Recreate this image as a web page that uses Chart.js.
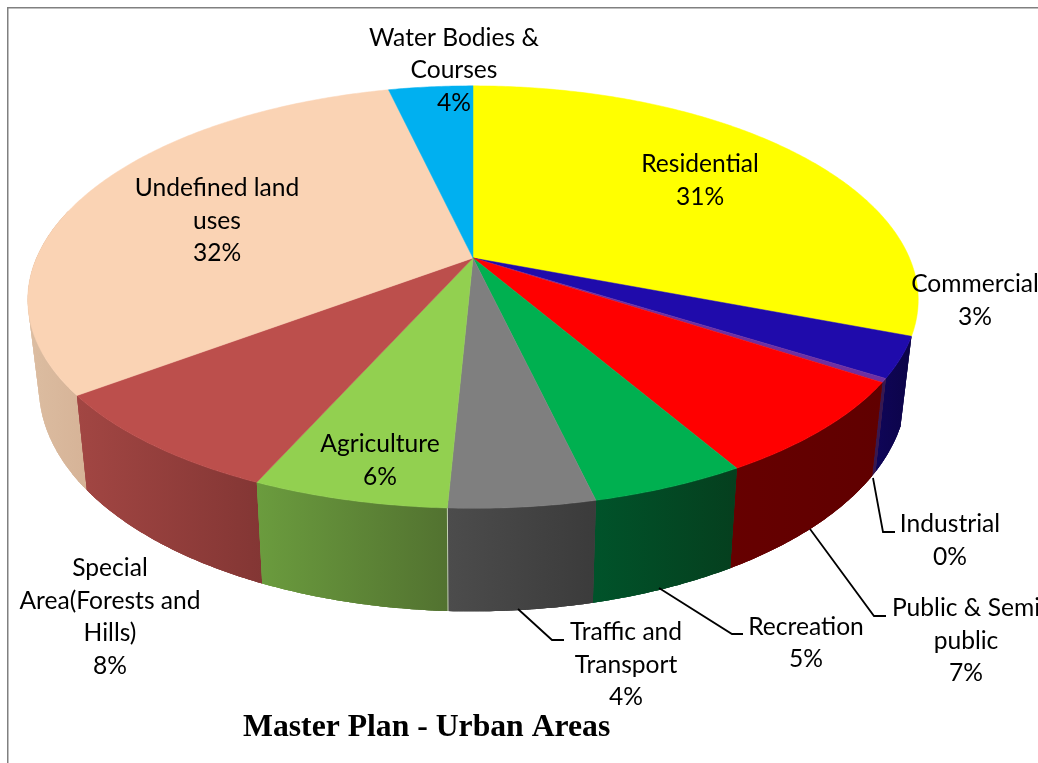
<!DOCTYPE html>
<html>
<head>
<meta charset="utf-8">
<title>Master Plan - Urban Areas</title>
<style>
    html, body { margin: 0; padding: 0; background: #fff; overflow: hidden; }
    canvas { display: block; }
</style>
<script src="https://cdn.jsdelivr.net/npm/chart.js@4/dist/chart.umd.js"></script>
</head>
<body>
<canvas id="chart" width="1038" height="763"></canvas>
<script>
// Data
const categories = ['Residential', 'Commercial', 'Industrial', 'Public & Semi public', 'Recreation',
    'Traffic and Transport', 'Agriculture', 'Special Area(Forests and Hills)', 'Undefined land uses', 'Water Bodies & Courses'];
const shares = [30.8, 3.1, 0.3, 7.4, 4.7, 4.4, 5.9, 8.1, 31.5, 3.7];
const percentLabels = ['31%', '3%', '0%', '7%', '5%', '4%', '6%', '8%', '32%', '4%'];

// Colours
const topColors = ['#ffff00', '#1f0bab', '#7030a0', '#ff0000', '#00b050', '#7f7f7f', '#92d050', '#bc4f4c', '#fad3b4', '#00b0f0'];
const wallStart = ['#7f7f00', '#0f0558', '#38184f', '#660000', '#00532a', '#4c4c4c', '#6b9c3e', '#a24643', '#dcbda1', '#005878'];
const wallEnd = ['#7f7f00', '#0c0448', '#38184f', '#600000', '#053f1e', '#3b3b3b', '#527230', '#833634', '#d6b397', '#005878'];

// Label layout: wrapped lines (the percentage is added below), centre x, first line y
const labelLayout = [
    { lines: ['Residential'], x: 700, y: 164.5 },
    { lines: ['Commercial'], x: 975, y: 284.5 },
    { lines: ['Industrial'], x: 950, y: 524.5 },
    { lines: ['Public & Semi', 'public'], x: 966, y: 608.5 },
    { lines: ['Recreation'], x: 806, y: 627 },
    { lines: ['Traffic and', 'Transport'], x: 626, y: 632.5 },
    { lines: ['Agriculture'], x: 380, y: 444.5 },
    { lines: ['Special', 'Area(Forests and', 'Hills)'], x: 110, y: 568.5 },
    { lines: ['Undefined land', 'uses'], x: 217, y: 188.5 },
    { lines: ['Water Bodies &', 'Courses'], x: 454, y: 38 }
];
const leaderLines = [
    [[873, 478], [883, 532], [895, 532]],
    [[810, 529], [874, 616], [886, 616]],
    [[659, 588], [732, 634], [743, 634]],
    [[518, 609], [552, 640], [564, 640]]
];

// Perspective of the tilted disc
const view = { cx: 473, cy: 258, rx: 436.5, ry: 204, tiltX: 0.197, tiltY: 0.185, depth: 84, shrink: 0.975 };

function project(angle, lower) {
    const u = Math.cos(angle);
    const v = Math.sin(angle);
    return {
        x: view.cx + view.rx * (lower ? view.shrink : 1) * u / (1 - view.tiltX * v),
        y: view.cy + (view.ry * v + (lower ? view.depth : 0)) / (1 - view.tiltY * v)
    };
}

function arcAngles(start, end) {
    const steps = Math.max(2, Math.ceil((end - start) / 0.01));
    const list = [];
    for (let i = 0; i <= steps; i++) {
        list.push(start + (end - start) * i / steps);
    }
    return list;
}

function drawWall(ctx, arc, i) {
    // Residential's rim is out of sight in the picture
    if (i === 0) return;
    // only the part of the rim turned to the viewer
    const angles = arcAngles(arc.startAngle, arc.endAngle).filter(a => Math.sin(a) > -0.25);
    if (angles.length < 2) return;
    const upper = angles.map(a => project(a, false));
    const lower = angles.map(a => project(a, true));
    const xs = upper.concat(lower).map(p => p.x);
    const gradient = ctx.createLinearGradient(Math.min(...xs), 0, Math.max(...xs), 0);
    gradient.addColorStop(0, wallStart[i]);
    gradient.addColorStop(1, wallEnd[i]);
    ctx.fillStyle = gradient;
    // strips keep the silhouette at the sides filled; drawn twice so their seams close up
    for (let pass = 0; pass < 2; pass++) {
        for (let n = 0; n < angles.length - 1; n++) {
            ctx.beginPath();
            ctx.moveTo(upper[n].x, upper[n].y);
            ctx.lineTo(upper[n + 1].x, upper[n + 1].y);
            ctx.lineTo(lower[n + 1].x, lower[n + 1].y);
            ctx.lineTo(lower[n].x, lower[n].y);
            ctx.closePath();
            ctx.fill();
        }
    }
    // smooth fill over the whole face
    ctx.beginPath();
    upper.concat(lower.slice().reverse()).forEach((p, n) => n ? ctx.lineTo(p.x, p.y) : ctx.moveTo(p.x, p.y));
    ctx.closePath();
    ctx.fill();
}

function drawTop(ctx, arc, i) {
    ctx.beginPath();
    ctx.moveTo(view.cx, view.cy);
    arcAngles(arc.startAngle, arc.endAngle).forEach(a => {
        const p = project(a, false);
        ctx.lineTo(p.x, p.y);
    });
    ctx.closePath();
    ctx.fillStyle = topColors[i];
    ctx.strokeStyle = topColors[i];
    ctx.lineWidth = 0.5;
    ctx.fill();
    ctx.stroke();
}

// Chart.js has no 3D pie: keep its arcs for the angles and draw them in perspective
const perspectivePie = {
    id: 'perspectivePie',
    beforeDraw(chart) {
        const ctx = chart.ctx;
        ctx.save();
        ctx.strokeStyle = '#808080';
        ctx.lineWidth = 1.5;
        ctx.beginPath();
        ctx.moveTo(7.75, 763);
        ctx.lineTo(7.75, 7.75);
        ctx.lineTo(1038, 7.75);
        ctx.stroke();
        ctx.restore();
    },
    beforeDatasetDraw(chart, args) {
        const ctx = chart.ctx;
        const arcs = args.meta.data;
        const order = arcs.map((arc, i) => i).sort((a, b) =>
            Math.sin((arcs[a].startAngle + arcs[a].endAngle) / 2) - Math.sin((arcs[b].startAngle + arcs[b].endAngle) / 2));
        ctx.save();
        order.forEach(i => drawWall(ctx, arcs[i], i));
        // pale seam where the Traffic wall meets the Agriculture wall
        const seamTop = project(arcs[5].endAngle, false);
        const seamBottom = project(arcs[5].endAngle, true);
        ctx.strokeStyle = '#c4d2b4';
        ctx.lineWidth = 1;
        ctx.beginPath();
        ctx.moveTo(seamTop.x, seamTop.y);
        ctx.lineTo(seamBottom.x, seamBottom.y);
        ctx.stroke();
        arcs.forEach((arc, i) => drawTop(ctx, arc, i));
        ctx.restore();
        return false;
    },
    afterDatasetsDraw(chart) {
        const ctx = chart.ctx;
        ctx.save();
        ctx.strokeStyle = '#000';
        ctx.lineWidth = 1.8;
        leaderLines.forEach(line => {
            ctx.beginPath();
            line.forEach((p, n) => n ? ctx.lineTo(p[0], p[1]) : ctx.moveTo(p[0], p[1]));
            ctx.stroke();
        });
        ctx.fillStyle = '#000';
        ctx.font = '24.6px Lato';
        ctx.textAlign = 'center';
        ctx.textBaseline = 'middle';
        labelLayout.forEach((label, i) => {
            label.lines.concat(percentLabels[i]).forEach((text, n) => ctx.fillText(text, label.x, label.y + n * 32.5));
        });
        ctx.restore();
    }
};

new Chart(document.getElementById('chart'), {
    type: 'pie',
    data: {
        labels: categories,
        datasets: [{ data: shares, backgroundColor: topColors }]
    },
    options: {
        responsive: false,
        animation: false,
        layout: { padding: { left: 243, bottom: 16 } },
        plugins: {
            legend: { display: false },
            tooltip: { enabled: false },
            title: {
                display: true,
                text: 'Master Plan - Urban Areas',
                position: 'bottom',
                align: 'start',
                color: '#000',
                padding: 0,
                font: { family: '"Liberation Serif"', size: 31.7, weight: 'bold' }
            }
        }
    },
    plugins: [perspectivePie]
});
</script>
</body>
</html>
